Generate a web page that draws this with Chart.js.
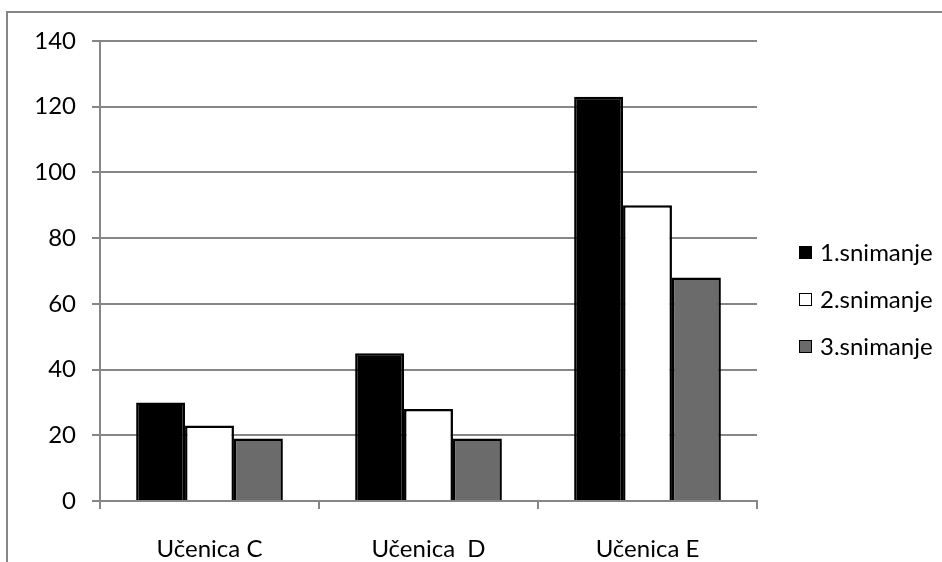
<!DOCTYPE html>
<html>
<head>
<meta charset="utf-8">
<script src="https://cdn.jsdelivr.net/npm/chart.js@4/dist/chart.umd.min.js"></script>
<style>
  html, body { margin: 0; padding: 0; background: #fff; overflow: hidden; }
  #wrap { position: relative; width: 942px; height: 562px; }
</style>
</head>
<body>
<div id="wrap"><canvas id="c" width="942" height="562"></canvas></div>
<script>
const categories = ['Učenica C', 'Učenica  D', 'Učenica E'];
const seriesNames = ['1.snimanje', '2.snimanje', '3.snimanje'];
const snimanje1 = [30, 45, 123];
const snimanje2 = [23, 28, 90];
const snimanje3 = [19, 19, 68];
const yTicks = [0, 20, 40, 60, 80, 100, 120, 140];

const FONT = 'Lato, "Open Sans", sans-serif';
const GRID = '#868686';
const fills = ['#000000', '#ffffff', '#6b6b6b'];

// Outer frame around the whole chart
const framePlugin = {
  id: 'frame',
  beforeDraw(chart) {
    const ctx = chart.ctx;
    ctx.save();
    ctx.strokeStyle = GRID;
    ctx.lineWidth = 2;
    ctx.strokeRect(7, 12, 1000, 700);
    ctx.restore();
  }
};

// Legend drawn as a vertical list at the right of the plot
const sideLegend = {
  id: 'sideLegend',
  afterDraw(chart) {
    const ctx = chart.ctx;
    ctx.save();
    ctx.font = '24px ' + FONT;
    ctx.textBaseline = 'middle';
    ctx.textAlign = 'left';
    chart.data.datasets.forEach((ds, i) => {
      const cy = 252 + i * 47;
      ctx.fillStyle = ds.backgroundColor;
      ctx.fillRect(799, cy - 6, 12, 12);
      ctx.strokeStyle = '#000';
      ctx.lineWidth = 1;
      ctx.strokeRect(799.5, cy - 5.5, 12, 12);
      ctx.fillStyle = '#000';
      ctx.fillText(ds.label, 820, cy + 1);
    });
    ctx.restore();
  }
};

new Chart(document.getElementById('c'), {
  type: 'bar',
  data: {
    labels: categories,
    datasets: [
      { label: seriesNames[0], data: snimanje1, backgroundColor: fills[0], borderColor: '#000', borderWidth: 2.5 },
      { label: seriesNames[1], data: snimanje2, backgroundColor: fills[1], borderColor: '#000', borderWidth: 2.5 },
      { label: seriesNames[2], data: snimanje3, backgroundColor: fills[2], borderColor: '#000', borderWidth: 2.5 }
    ]
  },
  options: {
    responsive: false,
    animation: false,
    devicePixelRatio: 1,
    layout: { padding: { top: 41, right: 185, bottom: 0, left: 0 } },
    datasets: { bar: { categoryPercentage: 0.67, barPercentage: 1.0 } },
    plugins: { legend: { display: false }, tooltip: { enabled: false } },
    scales: {
      x: {
        offset: true,
        grid: { offset: true, drawOnChartArea: false, color: GRID, lineWidth: 2, tickLength: 8 },
        border: { color: GRID, width: 2 },
        ticks: { color: '#000', font: { family: FONT, size: 24 }, padding: 26 },
        afterFit(s) { s.height = 61; }
      },
      y: {
        min: 0, max: 140,
        afterBuildTicks(s) { s.ticks = yTicks.map(v => ({ value: v })); },
        grid: { color: GRID, lineWidth: 2, tickLength: 8 },
        border: { color: GRID, width: 2 },
        ticks: { color: '#000', font: { family: FONT, size: 24 }, padding: 16 },
        afterFit(s) { s.width = 100; }
      }
    }
  },
  plugins: [framePlugin, sideLegend]
});
</script>
</body>
</html>
